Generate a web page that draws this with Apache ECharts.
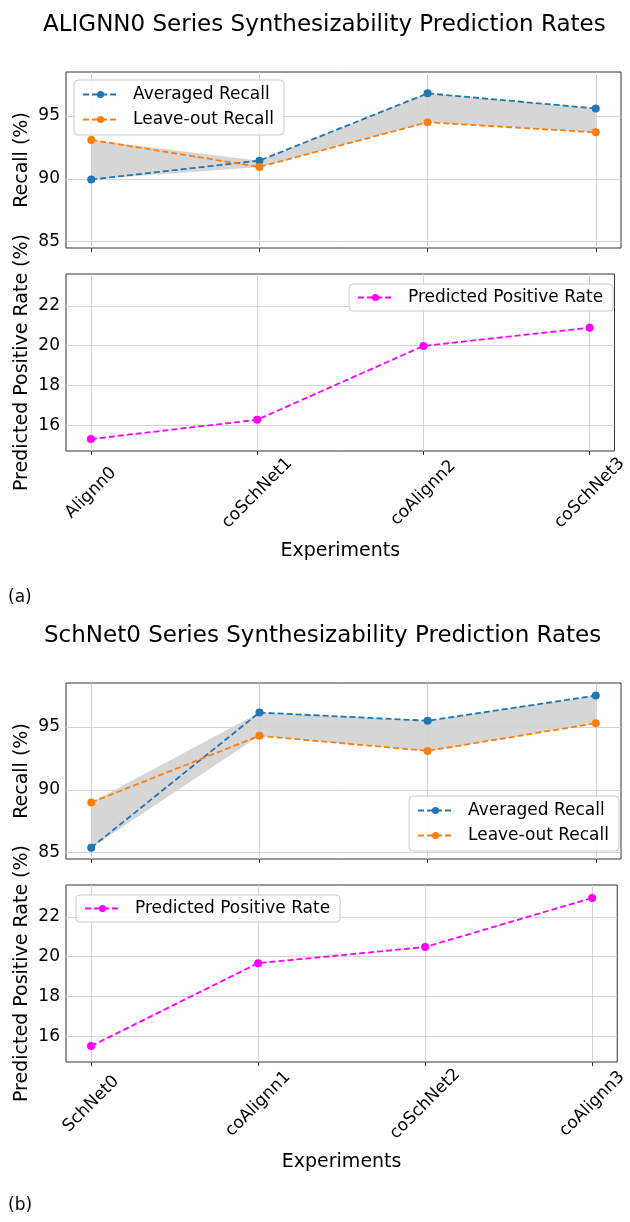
<!DOCTYPE html>
<html>
<head>
<meta charset="utf-8">
<script src="https://cdn.jsdelivr.net/npm/echarts@6/dist/echarts.min.js"></script>
<style>
html,body{margin:0;padding:0;background:#fff;}
.c{width:630px;height:611px;}
</style>
</head>
<body>
<div id="chartA" class="c"></div>
<div id="chartB" class="c"></div>
<script>
// ---- data ----
const titleA = 'ALIGNN0 Series Synthesizability Prediction Rates';
const catsA = ['Alignn0', 'coSchNet1', 'coAlignn2', 'coSchNet3'];
const avgRecallA = [89.95, 91.45, 96.8, 95.6];
const leaveRecallA = [93.1, 90.95, 94.5, 93.7];
const pprA = [15.3, 16.27, 19.98, 20.9];

const titleB = 'SchNet0 Series Synthesizability Prediction Rates';
const catsB = ['SchNet0', 'coAlignn1', 'coSchNet2', 'coAlignn3'];
const avgRecallB = [85.4, 96.15, 95.5, 97.5];
const leaveRecallB = [89.0, 94.3, 93.1, 95.3];
const pprB = [15.5, 19.67, 20.48, 22.95];

const recallTicks = [85, 90, 95];
const pprTicks = [16, 18, 20, 22];
const xName = 'Experiments';
const recallName = 'Recall (%)';
const pprName = 'Predicted Positive Rate (%)';
const avgName = 'Averaged Recall';
const leaveName = 'Leave-out Recall';
const pprSeriesName = 'Predicted Positive Rate';

// ---- styling ----
const FONT = 'DejaVu Sans';
const BLUE = '#1f77b4', ORANGE = '#ff7f0e', MAGENTA = '#ff00ff';
const GRIDC = '#d3d3d3';
const DASH = [6, 3];

function pairs(arr) { return arr.map((v, i) => [i, v]); }

function makeOption(title, cats, avg, leave, ppr, tag, legRecall, legPpr, tagTop, titleLeft) {
  const xIdx = cats.map((c, i) => i);
  const lo = avg.map((v, i) => Math.min(v, leave[i]));
  const hi = avg.map((v, i) => Math.max(v, leave[i]));

  const xBase = (gi, showLabels) => ({
    type: 'value', gridIndex: gi, min: -0.15, max: 3.15,
    axisLine: { show: false },
    splitLine: { show: false },
    axisTick: { show: true, customValues: xIdx, length: 4, lineStyle: { color: '#333', width: 1 } },
    axisLabel: showLabels ? {
      show: true, customValues: xIdx, rotate: 45, align: 'center', verticalAlign: 'middle',
      margin: 42, fontFamily: FONT, fontSize: 17, color: '#000',
      formatter: v => cats[Math.round(v)]
    } : { show: false },
    name: showLabels ? xName : '',
    nameLocation: 'middle', nameGap: 91,
    nameTextStyle: { fontFamily: FONT, fontSize: 19, color: '#000' }
  });
  const yBase = (gi, min, max, ticks, name) => ({
    type: 'value', gridIndex: gi, min: min, max: max,
    axisLine: { show: false },
    splitLine: { show: false },
    axisTick: { show: true, customValues: ticks, length: 4, lineStyle: { color: '#333', width: 1 } },
    axisLabel: { show: true, customValues: ticks, margin: 6, fontFamily: FONT, fontSize: 17, color: '#000' },
    name: name, nameLocation: 'middle', nameRotate: 90, nameGap: 34, nameMoveOverlap: false,
    nameTextStyle: { fontFamily: FONT, fontSize: 19, color: '#000' }
  });
  const gridLines = (gi, yt) => ({
    type: 'line', xAxisIndex: gi, yAxisIndex: gi, data: [], z: 1, silent: true,
    markLine: {
      silent: true, symbol: 'none', label: { show: false }, animation: false,
      lineStyle: { color: GRIDC, width: 1, type: 'solid' },
      data: xIdx.map(v => ({ xAxis: v })).concat(yt.map(v => ({ yAxis: v })))
    }
  });
  const lineSeries = (gi, name, data, color) => ({
    type: 'line', name: name, xAxisIndex: gi, yAxisIndex: gi, data: pairs(data), z: 5,
    symbol: 'circle', symbolSize: 8, showSymbol: true,
    lineStyle: { color: color, width: 1.8, type: DASH },
    itemStyle: { color: color }
  });
  const legendBase = {
    orient: 'vertical', itemWidth: 35, itemHeight: 9, itemGap: 8,
    backgroundColor: 'rgba(255,255,255,0.85)', borderColor: '#cccccc', borderWidth: 1, borderRadius: 4,
    textStyle: { fontFamily: FONT, fontSize: 17, color: '#000', padding: [0, 0, 0, 10] },
    selectedMode: false, z: 10
  };
  const band = {
    type: 'custom', name: 'band', xAxisIndex: 0, yAxisIndex: 0, z: 2, silent: true,
    data: xIdx.map(i => [i, lo[i], hi[i]]),
    renderItem: function (params, api) {
      if (params.dataIndex !== 0) return;
      const pts = [];
      for (let j = 0; j < xIdx.length; j++) pts.push(api.coord([xIdx[j], hi[j]]));
      for (let j = xIdx.length - 1; j >= 0; j--) pts.push(api.coord([xIdx[j], lo[j]]));
      return { type: 'polygon', shape: { points: pts }, style: { fill: '#d6d6d6' } };
    }
  };

  return {
    animation: false,
    backgroundColor: '#fff',
    title: {
      text: title, left: titleLeft, top: 14, padding: 0,
      textStyle: { fontFamily: FONT, fontSize: 23, fontWeight: 'normal', color: '#000' }
    },
    graphic: [{
      type: 'text', left: 8, top: tagTop,
      style: { text: tag, fontFamily: FONT, fontSize: 17, fill: '#000' }
    }],
    legend: [
      Object.assign({}, legendBase, { data: [avgName, leaveName], left: legRecall[0], top: legRecall[1], padding: [6, 10, 7, 8] }),
      Object.assign({}, legendBase, { data: [pprSeriesName], left: legPpr[0], top: legPpr[1], padding: [5, 10, 5, 8] })
    ],
    grid: [
      { left: 66, right: 9, top: 72, height: 176, show: true, borderColor: '#333', borderWidth: 1, backgroundColor: 'transparent' },
      { left: 66, right: 9, top: 274, height: 177, show: true, borderColor: '#333', borderWidth: 1, backgroundColor: 'transparent' }
    ],
    xAxis: [xBase(0, false), xBase(1, true)],
    yAxis: [
      yBase(0, 84.5, 98.5, recallTicks, recallName),
      yBase(1, 14.7, 23.6, pprTicks, pprName)
    ],
    series: [
      gridLines(0, recallTicks),
      gridLines(1, pprTicks),
      band,
      lineSeries(0, avgName, avg, BLUE),
      lineSeries(0, leaveName, leave, ORANGE),
      lineSeries(1, pprSeriesName, ppr, MAGENTA)
    ]
  };
}

const chartA = echarts.init(document.getElementById('chartA'), null, { renderer: 'canvas' });
chartA.setOption(makeOption(titleA, catsA, avgRecallA, leaveRecallA, pprA, '(a)', [74, 80], [349, 284], 589, 43));
const chartB = echarts.init(document.getElementById('chartB'), null, { renderer: 'canvas' });
chartB.setOption(makeOption(titleB, catsB, avgRecallB, leaveRecallB, pprB, '(b)', [409, 185], [76, 284], 586, 44));
</script>
</body>
</html>
